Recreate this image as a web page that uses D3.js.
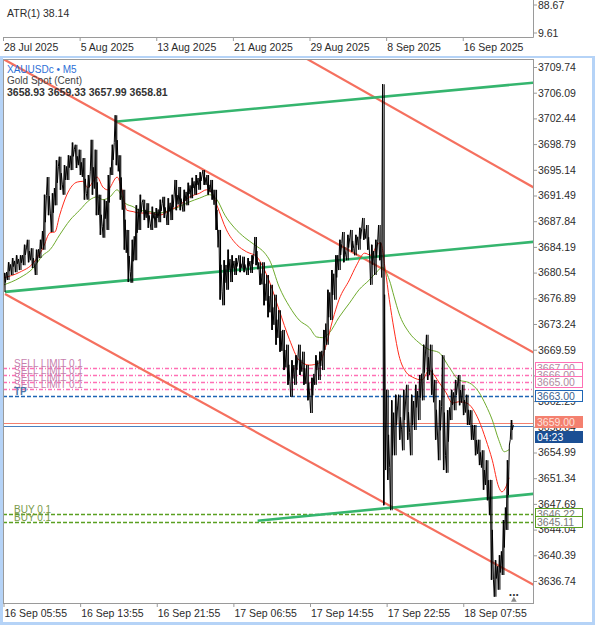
<!DOCTYPE html>
<html>
<head>
<meta charset="utf-8">
<script src="https://cdn.jsdelivr.net/npm/d3@7"></script>
<style>
body { margin: 0; background: #fff; }
text { font-family: "Liberation Sans", Arial, sans-serif; }
</style>
</head>
<body>
<svg id="chart" width="595" height="625"></svg>
<script>
// ---- data ----
var blockSize = 5; // each entry below covers 5 M5 bars
var barHigh = [3680.5,3682.0,3682.6,3683.0,3683.0,3684.5,3685.2,3684.0,3683.8,3685.2,
  3691.6,3694.1,3691.8,3696.5,3697.0,3695.8,3697.2,3699.0,3698.7,3698.0,
  3696.8,3694.4,3699.4,3698.0,3691.6,3690.9,3694.4,3698.7,3702.9,3697.2,
  3692.3,3686.6,3685.2,3690.1,3691.6,3690.9,3690.4,3689.9,3689.7,3690.9,
  3691.3,3691.1,3691.6,3693.7,3692.7,3692.3,3693.3,3694.0,3694.4,3694.8,
  3695.1,3694.4,3693.7,3692.3,3686.6,3682.3,3683.8,3683.0,3682.6,3683.0,
  3682.8,3682.6,3683.0,3685.6,3682.0,3682.0,3680.2,3678.8,3677.4,3675.2,
  3672.4,3670.3,3668.1,3668.8,3670.3,3669.3,3667.4,3665.6,3668.8,3669.3,
  3672.4,3678.1,3680.9,3683.0,3685.2,3686.3,3685.9,3686.6,3685.9,3686.9,
  3688.3,3687.3,3684.5,3685.2,3687.3,3707.3,3663.9,3662.4,3663.2,3663.2,
  3663.9,3664.6,3663.2,3664.6,3666.0,3670.3,3671.7,3670.3,3665.3,3662.4,
  3668.8,3661.0,3663.9,3665.3,3666.0,3664.6,3663.2,3661.0,3658.9,3656.8,
  3655.3,3653.9,3651.1,3639.7,3640.4,3645.4,3653.9,3659.6];
var barLow = [3677.8,3679.5,3680.2,3680.6,3680.9,3681.6,3682.0,3681.2,3680.2,3682.6,
  3683.8,3688.7,3686.3,3690.1,3692.3,3691.6,3693.7,3695.1,3695.4,3694.4,
  3690.9,3690.9,3691.6,3688.7,3685.9,3685.5,3686.6,3694.4,3695.8,3690.9,
  3683.8,3679.2,3679.1,3682.3,3686.6,3688.0,3686.9,3686.6,3686.9,3687.7,
  3688.3,3687.3,3688.0,3689.4,3689.4,3689.2,3690.1,3691.1,3691.6,3692.3,
  3693.0,3691.6,3690.9,3686.6,3676.7,3675.9,3678.1,3679.2,3680.2,3680.6,
  3680.6,3680.2,3680.5,3681.6,3678.8,3675.9,3674.2,3672.4,3670.3,3669.3,
  3666.7,3664.6,3662.9,3664.6,3666.0,3664.6,3662.4,3660.6,3664.6,3665.3,
  3666.7,3670.3,3673.8,3676.7,3680.9,3682.0,3682.3,3683.5,3683.0,3683.8,
  3685.2,3683.8,3678.8,3680.2,3682.3,3647.5,3651.1,3646.8,3654.6,3656.8,
  3655.3,3656.8,3654.6,3658.2,3659.6,3662.4,3665.3,3663.2,3656.8,3653.9,
  3652.5,3652.1,3659.6,3661.0,3661.7,3660.3,3658.9,3656.8,3654.6,3653.2,
  3649.7,3648.2,3636.9,3634.5,3635.5,3637.6,3644.0,3656.8];

// moving averages: [bar index, price]
var maFast = [[1,3679.8],[21,3680.6],[38,3681.9],[50,3684.0],[59,3686.2],[65,3686.3],[71,3688.7],
  [80,3691.6],[93,3693.4],[100,3693.5],[106,3692.6],[118,3694.1],[125,3692.7],[131,3692.3],
  [143,3694.1],[149,3692.3],[155,3689.4],[163,3689.2],[171,3689.0],[184,3689.0],[196,3688.7],
  [209,3689.4],[221,3690.1],[234,3691.3],[246,3691.8],[255,3692.3],[261,3692.0],[268,3690.1],
  [280,3686.6],[293,3684.5],[305,3683.5],[318,3682.8],[325,3681.5],[334,3679.2],[346,3675.2],
  [359,3671.0],[371,3668.1],[384,3667.4],[396,3667.7],[405,3670.3],[413,3673.8],[421,3676.7],
  [434,3679.5],[443,3681.6],[453,3683.3],[461,3683.0],[469,3684.5],[473,3684.8],[479,3680.9],
  [484,3676.7],[490,3672.4],[496,3668.8],[505,3666.4],[513,3665.7],[525,3665.3],[534,3666.7],
  [538,3666.3],[546,3665.0],[555,3663.5],[563,3662.0],[571,3662.2],[581,3662.0],[596,3659.6],
  [605,3656.8],[613,3653.9],[621,3650.1],[625,3649.4],[630,3650.1],[634,3651.4]];
var maSlow = [[1,3678.8],[21,3679.8],[38,3681.2],[50,3683.0],[59,3683.8],[71,3685.9],[84,3688.0],
  [96,3689.4],[109,3690.9],[118,3691.3],[125,3690.9],[134,3691.3],[143,3692.3],[153,3690.4],
  [163,3689.9],[171,3689.4],[184,3689.2],[196,3689.0],[209,3689.4],[221,3689.9],[234,3690.6],
  [246,3691.1],[259,3691.6],[268,3690.9],[278,3688.7],[290,3686.9],[303,3685.5],[315,3684.5],
  [328,3683.3],[334,3682.3],[346,3678.5],[359,3675.7],[371,3673.8],[384,3672.7],[393,3671.4],
  [400,3671.3],[409,3672.0],[421,3674.2],[434,3676.2],[446,3678.1],[459,3679.5],[468,3680.6],
  [475,3681.3],[484,3679.5],[490,3677.1],[496,3674.8],[509,3672.0],[521,3670.6],[534,3669.6],
  [546,3669.2],[559,3667.1],[571,3665.3],[584,3664.9],[596,3663.6],[605,3661.7],[613,3659.6],
  [621,3656.8],[628,3655.1],[634,3655.4]];

// trend lines: [start, end, extendLeft]
var greenLines = [[[143,3702.0],[663,3707.5],false],
                  [[2.5,3677.8],[663,3684.9],false],
                  [[319,3645.3],[663,3649.1],false]];
var redLines = [[[0,3710.9],[663,3669.3],true],
                [[379,3711.0],[659,3693.0],true],
                [[2.5,3677.5],[663,3636.3],false]];

var sellLimits = [3667.00, 3666.00, 3665.00, 3664.00];
var tpLevel = 3663.00;
var buyLevels = [3646.22, 3645.11];
var askPrice = 3659.20, bidPrice = 3658.81;

var priceTicks = [3709.74,3706.09,3702.44,3698.79,3695.14,3691.49,3687.84,3684.19,3680.54,
  3676.89,3673.24,3669.59,3665.94,3662.29,3658.64,3654.99,3651.34,3647.69,3644.04,3640.39,3636.74];
var timeTicks = [0, 96, 192, 288, 384, 480, 576];
var timeLabels = ["16 Sep 05:55","16 Sep 13:55","16 Sep 21:55","17 Sep 06:55","17 Sep 14:55","17 Sep 22:55","18 Sep 07:55"];
var dateLabels = ["28 Jul 2025","5 Aug 2025","13 Aug 2025","21 Aug 2025","29 Aug 2025","8 Sep 2025","16 Sep 2025"];
var atrLabels = [88.67, 9.61];

// ---- layout ----
var svg = d3.select("#chart");
var W = 595, H = 625,
    plot = {left: 3, right: 533, top: 59, bottom: 603};

var x = d3.scaleLinear().domain([0, 664]).range([plot.left, plot.right]);
var y = d3.scaleLinear().domain([3636.74, 3709.74]).range([581, 67]);
var yAtr = d3.scaleLinear().domain([9.61, 88.67]).range([33, 5]);

var borderBlue = "#b5d3f7", axisCol = "#9a9a9a", txtCol = "#2b2b2b";

// outer blue frame of the main window
svg.append("rect").attr("x", 0).attr("y", 56).attr("width", W).attr("height", 2).attr("fill", borderBlue);
svg.append("rect").attr("x", 0).attr("y", 56).attr("width", 3).attr("height", H - 56).attr("fill", borderBlue);
svg.append("rect").attr("x", W - 3).attr("y", 56).attr("width", 3).attr("height", H - 56).attr("fill", borderBlue);
svg.append("rect").attr("x", 0).attr("y", H - 3).attr("width", W).attr("height", 3).attr("fill", borderBlue);

// ATR sub-window
svg.append("path").attr("d", "M3,37.5H533.5V0").attr("fill", "none").attr("stroke", axisCol);
svg.append("text").attr("x", 7).attr("y", 17).attr("font-size", 10.5).attr("fill", txtCol).text("ATR(1) 38.14");
atrLabels.forEach(function(v) {
  svg.append("line").attr("x1", 533).attr("x2", 537).attr("y1", yAtr(v)).attr("y2", yAtr(v)).attr("stroke", axisCol);
  svg.append("text").attr("x", 538).attr("y", yAtr(v) + 4).attr("font-size", 10.5).attr("fill", txtCol).text(v.toFixed(2));
});
svg.selectAll(".dateTick").data(timeTicks).enter().append("line")
  .attr("x1", d => x(d) + 0.5).attr("x2", d => x(d) + 0.5).attr("y1", 37).attr("y2", 41).attr("stroke", axisCol);
svg.selectAll(".dateLabel").data(dateLabels).enter().append("text")
  .attr("x", (d, i) => x(timeTicks[i]) + 1).attr("y", 51).attr("font-size", 10.5).attr("fill", txtCol).text(d => d);

// main plot frame
svg.append("rect").attr("x", plot.left + 0.5).attr("y", plot.top + 0.5)
  .attr("width", plot.right - plot.left).attr("height", plot.bottom - plot.top)
  .attr("fill", "none").attr("stroke", axisCol);

svg.append("clipPath").attr("id", "clip").append("rect")
  .attr("x", plot.left + 1).attr("y", plot.top + 1)
  .attr("width", plot.right - plot.left - 1).attr("height", plot.bottom - plot.top - 1);
var g = svg.append("g").attr("clip-path", "url(#clip)");

// right price axis
var yAxis = svg.append("g").attr("transform", "translate(" + plot.right + ",0)")
  .call(d3.axisRight(y).tickValues(priceTicks).tickSize(4).tickPadding(1).tickFormat(d3.format(".2f")));
yAxis.select(".domain").remove();
yAxis.selectAll("line").attr("stroke", axisCol);
yAxis.selectAll("text").attr("font-size", 10.5).attr("fill", txtCol).attr("font-family", "Liberation Sans, Arial, sans-serif");

// bottom time axis
var xAxis = svg.append("g").attr("transform", "translate(0," + plot.bottom + ")")
  .call(d3.axisBottom(x).tickValues(timeTicks).tickSize(4).tickFormat((d, i) => timeLabels[i]));
xAxis.select(".domain").remove();
xAxis.selectAll("line").attr("stroke", axisCol).attr("transform", "translate(0.5,0)");
xAxis.selectAll("text").attr("text-anchor", "start").attr("x", 1).attr("y", 7)
  .attr("font-size", 10.5).attr("fill", txtCol).attr("font-family", "Liberation Sans, Arial, sans-serif");

// order / level lines
function hLine(price, color, dash, width) {
  g.append("line").attr("x1", plot.left).attr("x2", plot.right)
    .attr("y1", Math.round(y(price)) + 0.5).attr("y2", Math.round(y(price)) + 0.5)
    .attr("stroke", color).attr("stroke-width", width || 1.5).attr("stroke-dasharray", dash);
}
sellLimits.forEach(p => hLine(p, "#ff6fb5", "4,2,1,2", 1.5));
hLine(tpLevel, "#1f66b5", "4,2", 1.6);
buyLevels.forEach(p => hLine(p, "#5aa021", "4,2", 1.6));
hLine(askPrice, "#f4806f", null, 1.2);
hLine(bidPrice, "#4a80c0", null, 1.2);

// trend lines
function trend(seg, color, width) {
  var a = seg[0], b = seg[1], k = (b[1] - a[1]) / (b[0] - a[0]);
  var x0 = seg[2] ? -50 : a[0], x1 = 700;
  g.append("line")
    .attr("x1", x(x0)).attr("y1", y(a[1] + k * (x0 - a[0])))
    .attr("x2", x(x1)).attr("y2", y(a[1] + k * (x1 - a[0])))
    .attr("stroke", color).attr("stroke-width", width);
}
redLines.forEach(s => trend(s, "#f5705f", 2.2));
greenLines.forEach(s => trend(s, "#35b56e", 2.6));

// moving averages
var maLine = d3.line().x(d => x(d[0])).y(d => y(d[1])).curve(d3.curveMonotoneX);
g.append("path").datum(maSlow).attr("d", maLine).attr("fill", "none").attr("stroke", "#6fab2e").attr("stroke-width", 1);
g.append("path").datum(maFast).attr("d", maLine).attr("fill", "none").attr("stroke", "#ff2b1c").attr("stroke-width", 1);

// price line (dense M5 bars condensed into 5-bar blocks)
var pts = [];
barHigh.forEach(function(hi, k) {
  var lo = barLow[k], mid = (hi + lo) / 2;
  var nextMid = k < barHigh.length - 1 ? (barHigh[k + 1] + barLow[k + 1]) / 2 : mid;
  var first = nextMid >= mid ? lo : hi, second = nextMid >= mid ? hi : lo;
  pts.push([k * blockSize + 0.5, first], [k * blockSize + 1.8, second],
           [k * blockSize + 3.1, (first + second) / 2], [k * blockSize + 4.4, (second + nextMid) / 2]);
});
g.selectAll(".bar").data(barHigh).enter().append("line")
  .attr("x1", (d, k) => x(k * blockSize + 2.5)).attr("x2", (d, k) => x(k * blockSize + 2.5))
  .attr("y1", d => y(d)).attr("y2", (d, k) => y(barLow[k]))
  .attr("stroke", "#000").attr("stroke-width", 1.1);
g.append("path").datum(pts).attr("d", d3.line().x(d => x(d[0])).y(d => y(d[1])))
  .attr("fill", "none").attr("stroke", "#000").attr("stroke-width", 1);

// left labels
var lblFont = 10;
sellLimits.forEach(function(p) {
  svg.append("text").attr("x", 14).attr("y", Math.round(y(p)) - 1).attr("font-size", lblFont)
    .attr("fill", "#c77fae").text("SELL LIMIT 0.1");
});
svg.append("text").attr("x", 14).attr("y", Math.round(y(tpLevel)) - 1).attr("font-size", lblFont)
  .attr("font-weight", "bold").attr("fill", "#4b74a8").text("TP");
buyLevels.forEach(function(p) {
  svg.append("text").attr("x", 14).attr("y", Math.round(y(p)) - 1).attr("font-size", lblFont)
    .attr("fill", "#7a9a4a").text("BUY 0.1");
});

// right price boxes
function priceBox(price, label, stroke, fill, textCol, dy) {
  var cy = y(price) + (dy || 0);
  svg.append("rect").attr("x", 535.5).attr("y", Math.round(cy) - 5.5).attr("width", 47).attr("height", 11)
    .attr("fill", fill).attr("stroke", stroke).attr("stroke-width", 1);
  svg.append("text").attr("x", 537).attr("y", Math.round(cy) + 4).attr("font-size", 10.5)
    .attr("fill", textCol).text(label);
}
sellLimits.slice(0, 3).forEach(p => priceBox(p, p.toFixed(2), "#ff6fb5", "#fff", "#b08aa0"));
priceBox(tpLevel, tpLevel.toFixed(2), "#1f66b5", "#fff", "#3b5f8f");
priceBox(askPrice, "3659.00", "#f4806f", "#f4806f", "#fde2dd", -0.5);
priceBox(bidPrice, "04:23", "#1b4f94", "#1b4f94", "#ffffff", 11);
buyLevels.forEach(p => priceBox(p, p.toFixed(2), "#5aa021", "#fff", "#7a7a7a"));

// header
svg.append("text").attr("x", 7).attr("y", 73).attr("font-size", 10).attr("font-family", "Liberation Serif, serif")
  .attr("fill", "#2d6fd6").text("XAUUSDc \u2022 M5");
svg.append("text").attr("x", 7).attr("y", 84).attr("font-size", 10).attr("font-family", "Liberation Serif, serif")
  .attr("fill", "#444").text("Gold Spot (Cent)");
svg.append("text").attr("x", 7).attr("y", 96).attr("font-size", 10.5).attr("font-weight", "bold")
  .attr("fill", "#333").text("3658.93 3659.33 3657.99 3658.81");

// shift marker and more-dots
svg.append("path").attr("d", d3.symbol(d3.symbolTriangle, 14)()).attr("transform", "translate(" + (x(640)) + ",600)")
  .attr("fill", "#888");
svg.append("text").attr("x", x(640)).attr("y", 596).attr("text-anchor", "middle").attr("font-size", 12)
  .attr("font-weight", "bold").attr("fill", "#333").text("...");
</script>
</body>
</html>
